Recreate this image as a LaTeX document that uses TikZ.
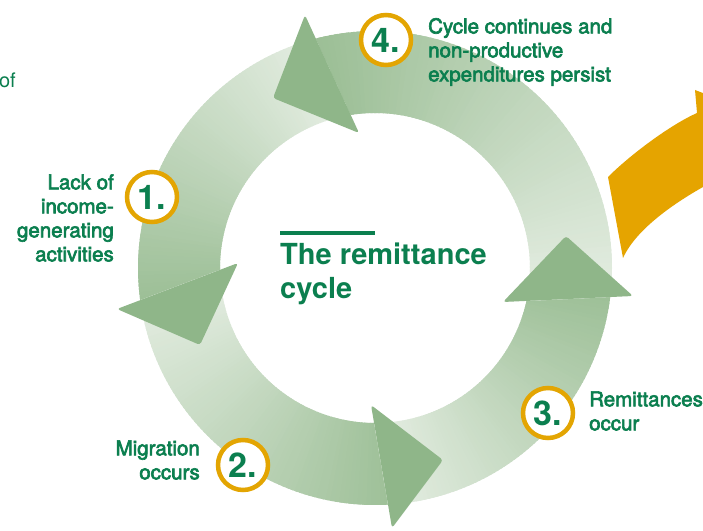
\documentclass[tikz,border=0pt]{standalone}
\usepackage{fontspec}
\setmainfont{TeX Gyre Heros}
\newfontfamily\labfont[FakeBold=3]{TeX Gyre Heros}
\definecolor{tgreen}{HTML}{0B7F4F}
\definecolor{ringc}{HTML}{E3A502}
\definecolor{orng}{HTML}{E5A400}
\definecolor{headg}{HTML}{8FB689}
\definecolor{darkg}{HTML}{9BBE95}
\definecolor{lightg}{HTML}{EAF1E8}
\newcommand{\gband}[2]{%
  \foreach \k in {0,...,89}{%
    \pgfmathsetmacro{\aA}{#1+(#2-#1)*\k/90}%
    \pgfmathsetmacro{\aB}{#1+(#2-#1)*(\k+1.6)/90}%
    \pgfmathtruncatemacro{\pc}{100*\k/89}%
    \fill[darkg!\pc!lightg] ([shift={(375,262)}]\aA:237) arc[start angle=\aA, end angle=\aB, radius=237]
      -- ([shift={(375,262)}]\aB:155) arc[start angle=\aB, end angle=\aA, radius=155] -- cycle;
  }%
}
\tikzset{
  numc/.style={circle, draw=ringc, line width=4.5pt, fill=white, minimum size=50pt, inner sep=0pt,
    font=\bfseries\fontsize{34}{34}\selectfont, text=tgreen},
  lab/.style={font=\labfont\fontsize{20.5}{24}\selectfont, text=tgreen, inner sep=0pt},
  headtri/.style={fill=headg, rounded corners=3pt},
}
\begin{document}
\begin{tikzpicture}[x=1pt,y=1pt]
\clip (0,0) rectangle (703,530);
\fill[white] (0,0) rectangle (703,530);
% ring bands, each clipped between the base lines of two arrowheads
\begin{scope}
  \clip (359,397) -- (305,515) -- (64,514) -- (117,221) -- (238,267) -- cycle;
  \gband{98}{190}
\end{scope}
\begin{scope}
  \clip (238,267) -- (117,221) -- (78,-35) -- (392,2) -- (371,125) -- cycle;
  \gband{178}{278}
\end{scope}
\begin{scope}
  \clip (371,125) -- (392,2) -- (645,-60) -- (633,234) -- (503,228) -- cycle;
  \gband{266}{356}
\end{scope}
\begin{scope}
  \clip (503,228) -- (633,234) -- (739,472) -- (519,657) -- (305,515) -- (359,397) -- cycle;
  \gband{342}{466}
\end{scope}
% arrowheads
\fill[headtri] (305,515) -- (273,432) -- (359,397) -- cycle;
\fill[headtri] (238,267) -- (117,221) -- (200,185) -- cycle;
\fill[headtri] (371,125) -- (443,70) -- (392,2) -- cycle;
\fill[headtri] (503,228) -- (566,294) -- (633,234) -- cycle;
% orange arrow
\fill[orng] (623,272) -- (608,353) .. controls (630,375) and (670,405) .. (697,417)
  -- (695,440) -- (760,415) -- (760,360) -- (703,343)
  .. controls (680,330) and (637,303) .. (623,272) -- cycle;
% number circles
\node[numc] (n1) at (152,333) {1.};
\node[numc] (n2) at (243,65) {2.};
\node[numc] (n3) at (548,117) {3.};
\node[numc] (n4) at (386,490) {4.};
% labels
\node[lab, align=right, anchor=east] (l1) at (114,312) {Lack of\\income-\\generating\\activities};
\node[lab, align=left, anchor=west] (l4) at (428,478) {Cycle continues and\\non-productive\\expenditures persist};
\node[lab, align=left, anchor=west] (l3) at (589,119) {Remittances\\occur};
\node[lab, align=right, anchor=east] (l2) at (200,70) {Migration\\occurs};
\node[font=\fontsize{20}{24}\selectfont, text=tgreen, anchor=east, inner sep=0pt] (of) at (16,450) {of};
% title
\draw[tgreen, line width=4pt] (280,297) -- (375,297);
\node[font=\bfseries\fontsize{29}{34}\selectfont, text=tgreen, align=left, anchor=west, inner sep=0pt] (title) at (280,256) {The remittance\\cycle};
\end{tikzpicture}
\end{document}
